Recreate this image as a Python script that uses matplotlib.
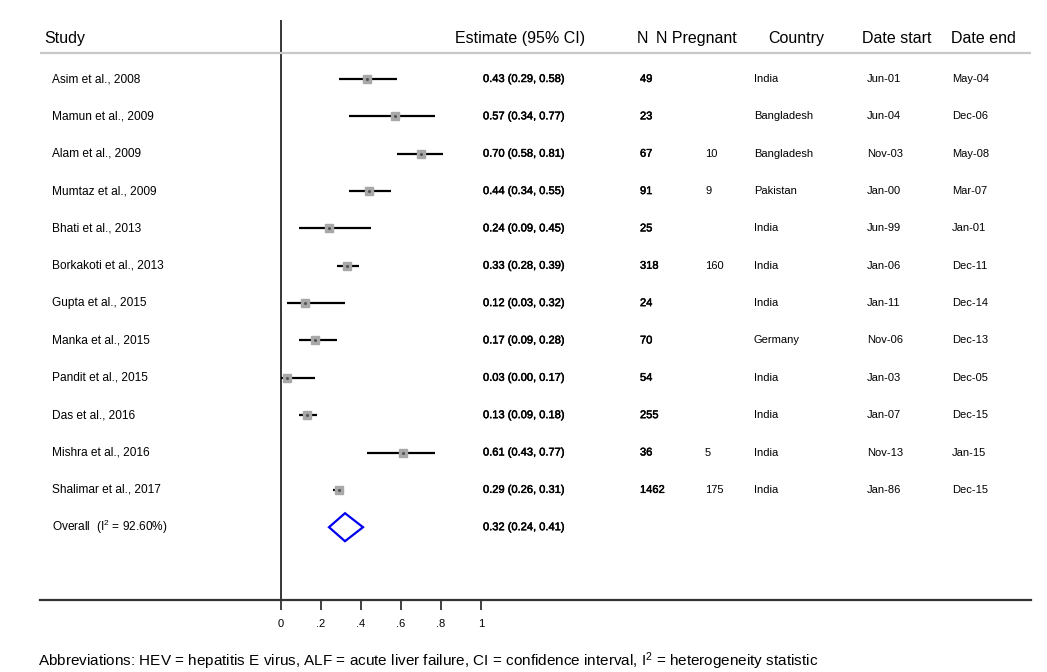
import matplotlib
matplotlib.use("Agg")
import matplotlib.pyplot as plt
from matplotlib.patches import Polygon
import matplotlib.patheffects as pe

plt.rcParams['font.family'] = ['Liberation Sans', 'DejaVu Sans']
plt.rcParams['mathtext.fontset'] = 'custom'
plt.rcParams['mathtext.rm'] = 'Liberation Sans'
plt.rcParams['mathtext.it'] = 'Liberation Sans:italic'

# ---------------- data ----------------
studies = ["Asim et al., 2008", "Mamun et al., 2009", "Alam et al., 2009",
           "Mumtaz et al., 2009", "Bhati et al., 2013", "Borkakoti et al., 2013",
           "Gupta et al., 2015", "Manka et al., 2015", "Pandit et al., 2015",
           "Das et al., 2016", "Mishra et al., 2016", "Shalimar et al., 2017"]
est = [0.43, 0.57, 0.70, 0.44, 0.24, 0.33, 0.12, 0.17, 0.03, 0.13, 0.61, 0.29]
lo = [0.29, 0.34, 0.58, 0.34, 0.09, 0.28, 0.03, 0.09, 0.00, 0.09, 0.43, 0.26]
hi = [0.58, 0.77, 0.81, 0.55, 0.45, 0.39, 0.32, 0.28, 0.17, 0.18, 0.77, 0.31]
n_total = ["49", "23", "67", "91", "25", "318", "24", "70", "54", "255", "36", "1462"]
n_preg = ["", "", "10", "9", "", "160", "", "", "", "", "5", "175"]
country = ["India", "Bangladesh", "Bangladesh", "Pakistan", "India", "India",
           "India", "Germany", "India", "India", "India", "India"]
date_start = ["Jun-01", "Jun-04", "Nov-03", "Jan-00", "Jun-99", "Jan-06",
              "Jan-11", "Nov-06", "Jan-03", "Jan-07", "Nov-13", "Jan-86"]
date_end = ["May-04", "Dec-06", "May-08", "Mar-07", "Jan-01", "Dec-11",
            "Dec-14", "Dec-13", "Dec-05", "Dec-15", "Jan-15", "Dec-15"]
overall_est, overall_lo, overall_hi = 0.32, 0.24, 0.41
overall_i2 = "92.60%"
xticks = [0, 0.2, 0.4, 0.6, 0.8, 1.0]
xticklabels = ["0", ".2", ".4", ".6", ".8", "1"]
headers = ["Study", "Estimate (95% CI)", "N", "N Pregnant", "Country", "Date start", "Date end"]

# ---------------- layout ----------------
W, H = 1047, 672
fig = plt.figure(figsize=(W / 100, H / 100), dpi=100)
ax_l, ax_r, ax_t, ax_b = 40, 1031, 20, 600
ax = fig.add_axes([ax_l / W, 1 - ax_b / H, (ax_r - ax_l) / W, (ax_b - ax_t) / H])

X0, XS = 281, 200.0          # pixel of x=0, pixels per unit
Y0, YS = 79, 37.35           # pixel of row 0, pixels per row

def px2x(px):
    return (px - X0) / XS

def py2y(py):
    return (py - Y0) / YS

ax.set_xlim(px2x(ax_l), px2x(ax_r))
ax.set_ylim(py2y(ax_b), py2y(ax_t))

for s in ["top", "right", "left"]:
    ax.spines[s].set_visible(False)
ax.spines["bottom"].set_color("#333333")
ax.spines["bottom"].set_linewidth(1.6)
ax.set_yticks([])
ax.set_xticks(xticks)
ax.set_xticklabels(xticklabels)
ax.tick_params(axis="x", length=7, width=1.3, color="#333333", labelsize=8, pad=7)

ax.axvline(0, color="black", lw=1.1)
ax.axhline(py2y(53), color="#c8c8c8", lw=1.6)

semi = [pe.withStroke(linewidth=0.35, foreground="black")]

# header texts
hy = py2y(38)
hfs = 11.5
ax.text(px2x(44), hy, headers[0], fontsize=hfs, va="center", ha="left")
ax.text(px2x(455), hy, headers[1], fontsize=hfs, va="center", ha="left")
ax.text(px2x(637), hy, headers[2], fontsize=hfs, va="center", ha="left")
ax.text(px2x(656), hy, headers[3], fontsize=hfs, va="center", ha="left")
ax.text(px2x(768), hy, headers[4], fontsize=hfs, va="center", ha="left")
ax.text(px2x(862), hy, headers[5], fontsize=hfs, va="center", ha="left")
ax.text(px2x(951), hy, headers[6], fontsize=hfs, va="center", ha="left")

fs_name = 8.6
fs = 8
for i, name in enumerate(studies):
    y = i
    ax.plot([lo[i], hi[i]], [y, y], color="black", lw=1.6, solid_capstyle="butt", zorder=2)
    ax.plot([est[i]], [y], marker="s", ms=5.5, color="#a8a8a8", mec="#a8a8a8", zorder=3)
    ax.plot([est[i]], [y], marker="o", ms=1.2, color="#555555", zorder=4)
    ax.text(px2x(52), y, name, fontsize=fs_name, va="center", ha="left")
    ax.text(px2x(483), y, f"{est[i]:.2f} ({lo[i]:.2f}, {hi[i]:.2f})",
            fontsize=fs, va="center", ha="left", path_effects=semi)
    ax.text(px2x(640), y, n_total[i], fontsize=fs, va="center", ha="left", path_effects=semi)
    ax.text(px2x(705), y, n_preg[i], fontsize=fs, va="center", ha="left")
    ax.text(px2x(754), y, country[i], fontsize=fs, va="center", ha="left")
    ax.text(px2x(867), y, date_start[i], fontsize=fs, va="center", ha="left")
    ax.text(px2x(952), y, date_end[i], fontsize=fs, va="center", ha="left")

# overall
oy = len(studies)
dh = 14 / YS
diamond = Polygon([[overall_lo, oy], [overall_est, oy - dh], [overall_hi, oy], [overall_est, oy + dh]],
                  closed=True, fill=False, edgecolor="#0000ee", lw=1.6, zorder=3)
ax.add_patch(diamond)
ax.text(px2x(52), oy, "Overall  (I$^{2}$ = " + overall_i2 + ")", fontsize=fs_name, va="center", ha="left")
ax.text(px2x(483), oy, f"{overall_est:.2f} ({overall_lo:.2f}, {overall_hi:.2f})",
        fontsize=fs, va="center", ha="left", path_effects=semi)

fig.text(38 / W, 1 - 661 / H,
         "Abbreviations: HEV = hepatitis E virus, ALF = acute liver failure, CI = confidence interval, "
         "I$^{2}$ = heterogeneity statistic",
         fontsize=11, va="center", ha="left")

fig.savefig("out.png", dpi=100)
